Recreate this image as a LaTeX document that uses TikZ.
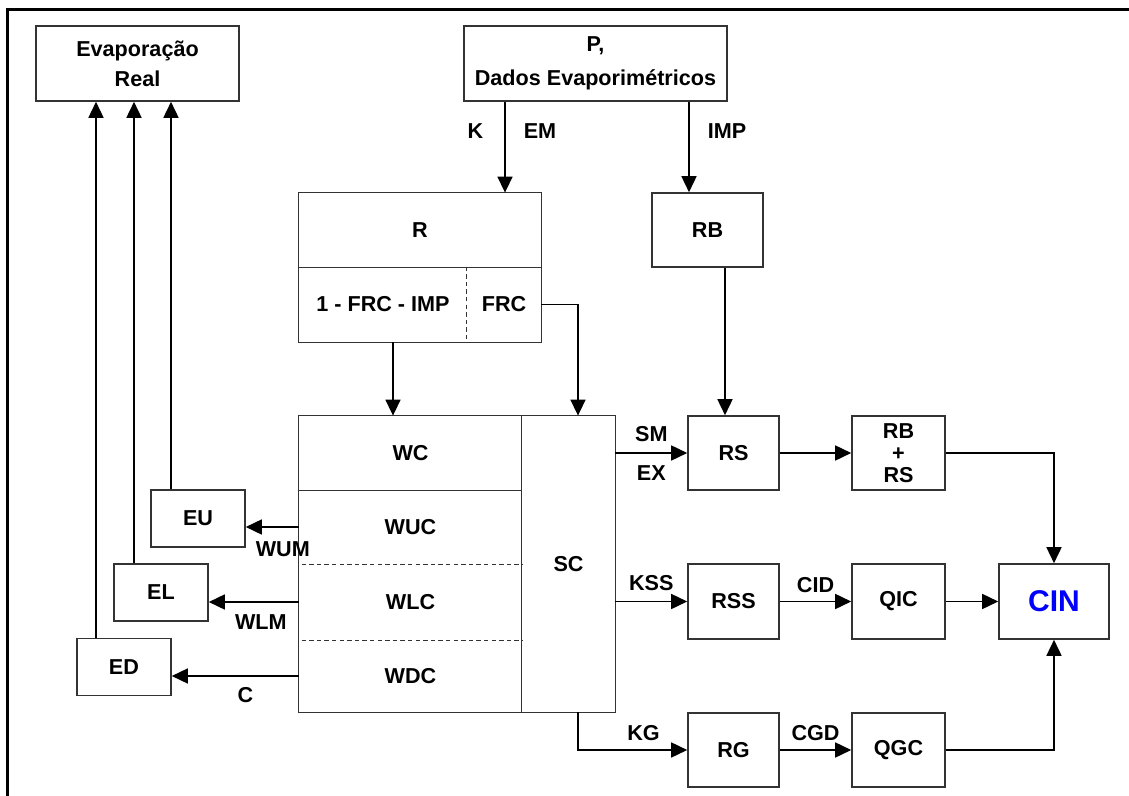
\documentclass[tikz,border=0pt]{standalone}
\usepackage{fontspec}
\setmainfont{Liberation Sans}
\usetikzlibrary{arrows.meta}

\begin{document}
\begin{tikzpicture}[x=0.5pt, y=-0.5pt,
  every node/.style={font=\bfseries\fontsize{10.8}{13}\selectfont},
  box/.style={draw=black!80, line width=0.8pt, minimum width=46.5pt, minimum height=37pt, inner sep=0pt},
  small/.style={box, minimum width=47pt, minimum height=28.5pt},
  cell/.style={minimum height=37pt, inner sep=0pt},
  sep/.style={black!80, line width=0.8pt, dash pattern=on 2.2pt off 1.6pt},
  arr/.style={-{Triangle[width=7.5pt,length=8pt]}, line width=0.8pt},
  lbl/.style={inner sep=1pt}]
\useasboundingbox (0,0) rectangle (1129,796);
\draw[line width=1.5pt] (7,796) -- (7,10) -- (1129,10);

\node[box, minimum width=101.5pt, minimum height=37.5pt, align=center] (evap) at (137.5,63.5) {Evaporação\\[2pt]Real};
\node[box, minimum width=131.5pt, minimum height=37.5pt, align=center] (dados) at (595.5,63.5) {P,\\[4pt]Dados Evaporimétricos};

\node[cell, minimum width=121pt] (rtop) at (420,230) {R};
\node[cell, minimum width=84pt, minimum height=37.5pt] (rimp) at (383,304.5) {1 - FRC - IMP};
\node[cell, minimum width=37pt, minimum height=37.5pt] (rfrc) at (504,304.5) {FRC};
\draw[black!80, line width=0.8pt] (rtop.north west) rectangle (rfrc.south east);
\draw[black!80, line width=0.8pt] (rtop.south west) -- (rtop.south east);
\draw[sep] (rfrc.north west) -- (rfrc.south west);

\node[box, minimum width=55.5pt] (rb) at (707.5,230) {RB};

\node[cell, minimum width=111.5pt] (wc) at (410.5,453) {WC};
\node[cell, minimum width=111.5pt] (wuc) at (410.5,527) {WUC};
\node[cell, minimum width=111.5pt, minimum height=38pt] (wlc) at (410.5,602) {WLC};
\node[cell, minimum width=111.5pt, minimum height=36pt] (wdc) at (410.5,676) {WDC};
\node[cell, minimum width=46.5pt, minimum height=148pt] (sc) at (568.5,564) {SC};
\draw[black!80, line width=0.8pt] (wc.north west) rectangle (sc.south east);
\draw[black!80, line width=0.8pt] (wc.south west) -- (wc.south east);
\draw[black!80, line width=0.8pt] (sc.north west) -- (sc.south west);
\draw[sep] ([xshift=1.5pt]wuc.south west) -- (wuc.south east);
\draw[sep] ([xshift=1.5pt]wlc.south west) -- (wlc.south east);

\node[small] (eu) at (198,518.5) {EU};
\node[small] (el) at (161,592.5) {EL};
\node[small] (ed) at (124,667) {ED};

\node[box, minimum width=45.5pt] (rs) at (733.5,453) {RS};
\node[box, align=center, font=\bfseries\fontsize{10.8}{11}\selectfont] (rbrs) at (898.5,453) {RB\\+\\RS};
\node[box, minimum width=45.5pt, minimum height=37.5pt] (rss) at (733.5,601.5) {RSS};
\node[box, minimum height=37.5pt] (qic) at (898.5,601.5) {QIC};
\node[box, minimum width=55pt, minimum height=37.5pt, text=blue, font=\bfseries\fontsize{15}{17}\selectfont] (cin) at (1054,601.5) {CIN};
\node[box, minimum width=45.5pt] (rg) at (733.5,750) {RG};
\node[box] (qgc) at (898.5,750) {QGC};

\coordinate (xK) at (505,0);
\coordinate (xI) at (689,0);
\coordinate (xRB) at (725,0);
\coordinate (xR) at (393,0);
\coordinate (xF) at (578,0);
\coordinate (xEU) at (171,0);
\coordinate (xEL) at (134,0);
\coordinate (xED) at (96,0);

\draw[arr] (dados.south -| xK) -- (rtop.north -| xK)
  node[lbl, pos=0.32, left=9.5pt] {K} node[lbl, pos=0.32, right=8pt] {EM};
\draw[arr] (dados.south -| xI) -- (rb.north -| xI) node[lbl, pos=0.32, right=8pt] {IMP};
\draw[arr] (rimp.south -| xR) -- (wc.north -| xR);
\draw[arr] (rfrc.east) -| (sc.north -| xF);
\draw[arr] (rb.south -| xRB) -- (rs.north -| xRB);

\draw[arr] (sc.east |- rs.west) -- (rs.west)
  node[lbl, midway, above=4pt] {SM} node[lbl, midway, below=5pt] {EX};
\draw[arr] (sc.east |- rss.west) -- (rss.west) node[lbl, midway, above=4pt] {KSS};
\draw[arr] (sc.south -| xF) |- (rg.west) node[lbl, pos=0.8, above=3pt] {KG};
\draw[arr] (rs.east) -- (rbrs.west);
\draw[arr] (rss.east) -- (qic.west) node[lbl, midway, above=3pt] {CID};
\draw[arr] (rg.east) -- (qgc.west) node[lbl, midway, above=3pt] {CGD};
\draw[arr] (qic.east) -- (cin.west);
\draw[arr] (rbrs.east) -| (cin.north);
\draw[arr] (qgc.east) -| (cin.south);

\draw[arr] (wuc.west) -- (eu.east |- wuc.west) node[lbl, pos=0.3, below=6pt] {WUM};
\draw[arr] (wlc.west) -- (el.east |- wlc.west) node[lbl, pos=0.42, below=5pt] {WLM};
\draw[arr] (wdc.west) -- (ed.east |- wdc.west) node[lbl, pos=0.42, below=4.5pt] {C};

\draw[arr] (eu.north -| xEU) -- (evap.south -| xEU);
\draw[arr] (el.north -| xEL) -- (evap.south -| xEL);
\draw[arr] (ed.north -| xED) -- (evap.south -| xED);
\end{tikzpicture}
\end{document}
